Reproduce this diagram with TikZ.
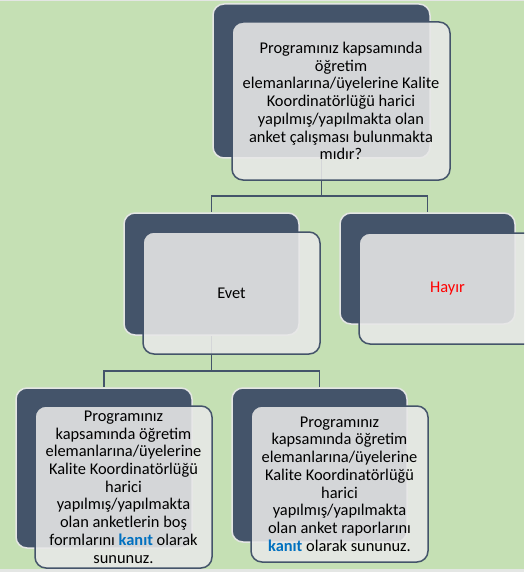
\documentclass[tikz,border=0pt]{standalone}
\usepackage{fontspec}
\setmainfont{Carlito}
\definecolor{bggreen}{HTML}{C5E0B4}
\definecolor{slate}{HTML}{44546A}
\definecolor{paper}{HTML}{E8E8E8}
\definecolor{rim}{HTML}{E4E6E4}
\definecolor{kanitblue}{HTML}{0070C0}
\begin{document}
\begin{tikzpicture}
            [x=1pt, y=-1pt,
            backbox/.style={rectangle, rounded corners=11pt, draw=rim, line width=1.5pt, fill=slate},
            frontbox/.style={rectangle, rounded corners=11pt, draw=slate, line width=1.5pt, fill=paper,
                fill opacity=0.88, text opacity=1, align=center,
                font=\fontsize{16.4}{17.7}\selectfont},
            link/.style={slate, line width=1.6pt}]

            \clip (0,0) rectangle (524,572);
            \fill[bggreen] (0,0) rectangle (524,572);
            \fill[rim] (0,0) rectangle (524,1.5);
            \fill[rim] (0,569) rectangle (524,572);

            % back panels
            \node[backbox, minimum width=217pt, minimum height=154pt] (qb) at (321.5,81) {};
            \node[backbox, minimum width=175pt, minimum height=122pt] (yesb) at (211.5,274) {};
            \node[backbox, minimum width=175pt, minimum height=111pt] (nob) at (427.5,268.5) {};
            \node[backbox, minimum width=176pt, minimum height=160pt] (lb) at (104,468) {};
            \node[backbox, minimum width=175pt, minimum height=154pt] (rb) at (319.5,465) {};

            % links
            \coordinate (j1) at (321.5,196);
            \coordinate (j2) at (211.5,371);
            \draw[link] (qb.south) -- (j1);
            \draw[link] (j1) -| (yesb.north);
            \draw[link] (j1) -| (nob.north);
            \draw[link] (yesb.south) -- (j2);
            \draw[link] (j2) -| (lb.north);
            \draw[link] (j2) -| (rb.north);

            % front panels
            \node[frontbox, minimum width=218pt, minimum height=158pt] (qf) at (341,101)
                {Programınız kapsamında\\öğretim\\elemanlarına/üyelerine Kalite\\Koordinatörlüğü harici\\yapılmış/yapılmakta olan\\anket çalışması bulunmakta\\mıdır?};
            \node[frontbox, minimum width=177pt, minimum height=122pt] (yesf) at (231.5,293) {Evet};
            \node[frontbox, minimum width=177pt, minimum height=111pt, text=red] (nof) at (447.5,288.5) {Hayır};
            \node[frontbox, minimum width=177pt, minimum height=162pt] (lf) at (123.5,487)
                {Programınız\\kapsamında öğretim\\elemanlarına/üyelerine\\Kalite Koordinatörlüğü\\harici\\yapılmış/yapılmakta\\olan anketlerin boş\\formlarını \textbf{\textcolor{kanitblue}{kanıt}} olarak\\sununuz.};
            \node[frontbox, minimum width=177pt, minimum height=156pt] (rf) at (339.5,484)
                {Programınız\\kapsamında öğretim\\elemanlarına/üyelerine\\Kalite Koordinatörlüğü\\harici\\yapılmış/yapılmakta\\olan anket raporlarını\\\textbf{\textcolor{kanitblue}{kanıt}} olarak sununuz.};

        \end{tikzpicture}
\end{document}
